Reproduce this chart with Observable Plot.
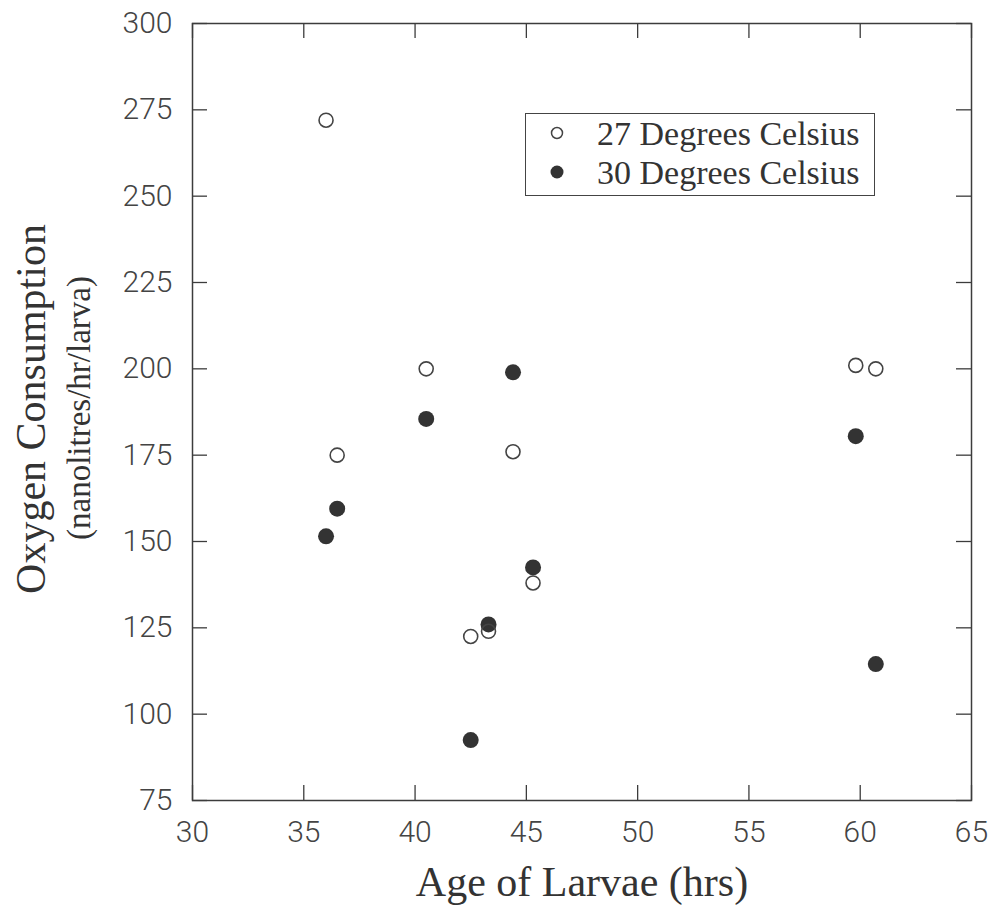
<!DOCTYPE html>
<html>
<head>
<meta charset="utf-8">
<script src="https://cdn.jsdelivr.net/npm/d3@7"></script>
<script src="https://cdn.jsdelivr.net/npm/@observablehq/plot@0.6"></script>
<style>
  html, body { margin: 0; padding: 0; background: #fff; }
  #wrap { position: relative; width: 993px; height: 908px; }
  #legend { position: absolute; left: 525px; top: 113px; width: 350px; height: 83px;
            box-sizing: border-box; border: 1.5px solid #444; background: #fff; }
  #legend svg { display: block; }
</style>
</head>
<body>
<div id="wrap"></div>
<script>
// ---- data ----
const seriesNames = ["27 Degrees Celsius", "30 Degrees Celsius"];
const age27 = [36.0, 36.5, 40.5, 42.5, 43.3, 44.4, 45.3, 59.8, 60.7];
const o2_27 = [272, 175, 200, 122.5, 124, 176, 138, 201, 200];
const age30 = [36.0, 36.5, 40.5, 42.5, 43.3, 44.4, 45.3, 59.8, 60.7];
const o2_30 = [151.5, 159.5, 185.5, 92.5, 126, 199, 142.5, 180.5, 114.5];
const xTicks = [30, 35, 40, 45, 50, 55, 60, 65];
const yTicks = [75, 100, 125, 150, 175, 200, 225, 250, 275, 300];
const xTitle = "Age of Larvae (hrs)";
const yTitle = "Oxygen Consumption";
const ySubtitle = "(nanolitres/hr/larva)";

const pts27 = age27.map((a, i) => ({age: a, o2: o2_27[i]}));
const pts30 = age30.map((a, i) => ({age: a, o2: o2_30[i]}));

const W = 993, H = 908;
const mL = 192, mR = 22, mT = 23, mB = 108;
const pw = W - mL - mR, ph = H - mT - mB;
const tick = 15;
const ink = "#3c3c3c";
const sans = "Roboto, 'DejaVu Sans', sans-serif";
const serif = "'Liberation Serif', 'DejaVu Serif', serif";

const chart = Plot.plot({
  width: W, height: H,
  marginLeft: mL, marginRight: mR, marginTop: mT, marginBottom: mB,
  x: {domain: [30, 65]},
  y: {domain: [75, 300]},
  style: {background: "#fff", color: "#444", fontFamily: sans, fontSize: "30px", fontWeight: 300},
  marks: [
    Plot.frame({stroke: ink, strokeWidth: 1.5}),
    // inward ticks on all four sides
    Plot.tickX(xTicks, {x: d => d, insetTop: ph - tick, stroke: ink, strokeWidth: 1.3}),
    Plot.tickX(xTicks, {x: d => d, insetBottom: ph - tick, stroke: ink, strokeWidth: 1.3}),
    Plot.tickY(yTicks, {y: d => d, insetRight: pw - tick, stroke: ink, strokeWidth: 1.3}),
    Plot.tickY(yTicks, {y: d => d, insetLeft: pw - tick, stroke: ink, strokeWidth: 1.3}),
    Plot.axisX({ticks: xTicks, tickSize: 0, tickPadding: 20, label: null, fontSize: 30, fontWeight: 300, fill: "#444"}),
    Plot.axisY({ticks: yTicks, tickSize: 0, tickPadding: 20, label: null, fontSize: 30, fontWeight: 300, fill: "#444"}),
    // data
    Plot.dot(pts30, {x: "age", y: "o2", r: 8, fill: "#333", stroke: "none"}),
    Plot.dot(pts27, {x: "age", y: "o2", r: 7, fill: "none", stroke: "#444", strokeWidth: 1.6}),
    // titles
    Plot.text([xTitle], {text: d => d, frameAnchor: "bottom", textAnchor: "middle", lineAnchor: "middle", dy: 82, fontSize: 42, fontFamily: serif, fill: "#333", fontWeight: 400}),
    Plot.text([yTitle], {text: d => d, frameAnchor: "left", textAnchor: "middle", lineAnchor: "middle", rotate: -90, dx: -161, dy: -3, fontSize: 42, fontFamily: serif, fill: "#333", fontWeight: 400}),
    Plot.text([ySubtitle], {text: d => d, frameAnchor: "left", textAnchor: "middle", lineAnchor: "middle", rotate: -90, dx: -113, dy: -4, fontSize: 33, fontFamily: serif, fill: "#333", fontWeight: 400})
  ]
});

const wrap = document.getElementById("wrap");
wrap.appendChild(chart);

// legend (HTML overlay)
const legend = document.createElement("div");
legend.id = "legend";
wrap.appendChild(legend);
const lsvg = d3.select(legend).append("svg").attr("width", 347).attr("height", 80);
const rows = lsvg.selectAll("g").data(seriesNames).join("g")
  .attr("transform", (d, i) => `translate(0, ${19 + i * 39})`);
rows.append("circle")
  .attr("cx", 31).attr("cy", 0).attr("r", (d, i) => i === 0 ? 5.5 : 6.5)
  .attr("fill", (d, i) => i === 0 ? "none" : "#333")
  .attr("stroke", (d, i) => i === 0 ? "#444" : "none")
  .attr("stroke-width", 1.5);
rows.append("text")
  .attr("x", 71).attr("y", 0).attr("dy", "0.35em")
  .attr("font-family", serif).attr("font-size", 34).attr("fill", "#333")
  .text(d => d);
</script>
</body>
</html>
